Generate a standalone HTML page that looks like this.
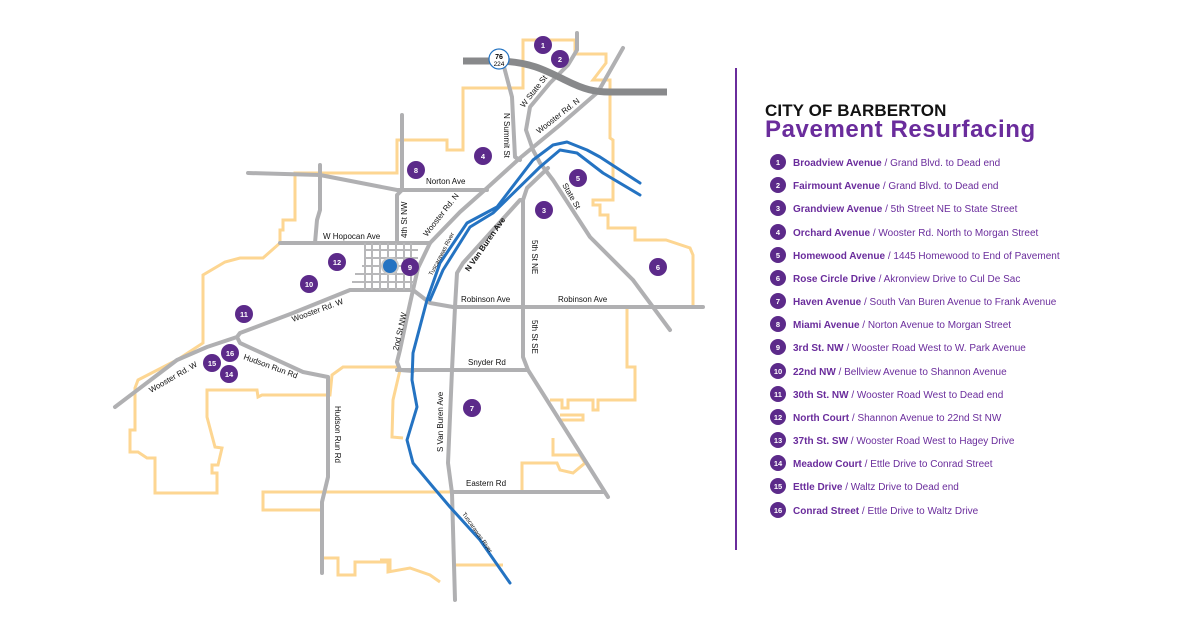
<!DOCTYPE html>
<html><head><meta charset="utf-8"><style>
html,body{margin:0;padding:0;background:#fff;}
svg{display:block;font-family:"Liberation Sans",sans-serif;}
.b{fill:none;stroke:#fdd692;stroke-width:3;stroke-linejoin:miter}
.r{fill:none;stroke:#b0b0b2;stroke-width:4;stroke-linejoin:round;stroke-linecap:round}
.g{fill:none;stroke:#b8b8ba;stroke-width:2}
.w{fill:none;stroke:#2473c2;stroke-width:3;stroke-linejoin:round;stroke-linecap:round}
.l{font-size:8px;fill:#111;}
.m circle{fill:#5c2a8a}
.m text{fill:#fff;font-size:7.5px;font-weight:bold;text-anchor:middle}
.lg{font-size:10px;fill:#6a2c9c}
</style></head><body>
<svg width="1200" height="628" viewBox="0 0 1200 628">
<g class="b">
<polyline points="463,130 463,88 523,88 523,40 575,40 575,54 606,54 606,63 593,80 610,80 610,138 613,140 613,200 593,200 593,205 600,205 600,215 608,215 608,228 635,228 635,240 666,240 690,248 693,255 693,307 627,307 627,367 635,367 635,400 598,400 598,410 593,410 593,400 568,400 568,408 562,408 562,400 550,400"/>
<polyline points="560,415 583,415 583,420 560,420"/>
<polyline points="553,438 553,455 580,455 585,463 573,473 560,470 557,463 522,463 522,492 263,492 263,510 320,510"/>
<polyline points="463,130 463,150 447,150 447,140 397,140 397,173 295,173 295,220 283,220 283,230 280,230 280,243 263,258 240,258 225,262 203,275 203,343 177,360 173,362 138,380 135,388 135,430 130,430 130,452 138,452 147,458 155,458 155,493 217,493 217,473 212,473 212,465 218,465 222,448 215,447 207,417 207,390 257,390 258,397 262,395 330,395 332,375 343,367 397,367 400,370 393,400 392,437 403,438"/>
<polyline points="323,558 338,558 338,575 355,575 355,562 388,562 388,572 410,568 430,575 440,582"/>
<polyline points="380,560 390,560 390,570"/>
<polyline points="455,565 503,565"/>
</g>
<g class="r">
<polyline points="503,63 512,97 515,157 520,160"/>
<polyline points="577,33 577,50 568,65 550,83 530,107 526,130 533,150 540,163 553,180 590,237 633,280 670,330"/>
<polyline points="623,48 598,92 560,125 520,158 487,188 460,212 430,243 418,268 413,290 407,317 400,350 397,362 400,370 413,371"/>
<polyline points="248,173 320,175 397,190 487,190"/>
<polyline points="402,115 402,190 397,195 397,243"/>
<polyline points="280,243 430,243"/>
<polyline points="320,165 320,210 317,220 315,243"/>
<polyline points="413,290 350,290 293,313 240,333 237,337 207,347 177,360 115,407"/>
<polyline points="237,337 240,343 303,372 328,377 328,477 322,502 322,573"/>
<polyline points="397,370 527,370"/>
<polyline points="413,290 430,303 453,307 703,307"/>
<polyline points="548,168 527,188 523,200 520,200 463,263 457,273 455,307 452,370 448,463 452,493 455,600"/>
<polyline points="523,200 523,357 528,370 608,497"/>
<polyline points="452,492 603,492"/>
</g>
<g class="g">
<line x1="365" y1="250" x2="418" y2="250"/><line x1="365" y1="258" x2="418" y2="258"/>
<line x1="362" y1="266" x2="416" y2="266"/><line x1="355" y1="274" x2="415" y2="274"/>
<line x1="352" y1="282" x2="414" y2="282"/>
<line x1="365" y1="243" x2="365" y2="290"/><line x1="372" y1="243" x2="372" y2="290"/>
<line x1="380" y1="243" x2="380" y2="290"/><line x1="388" y1="243" x2="388" y2="290"/>
<line x1="396" y1="243" x2="396" y2="290"/><line x1="404" y1="243" x2="404" y2="290"/>
<line x1="411" y1="243" x2="411" y2="290"/>
</g>
<path d="M463,61 L500,61 C530,62 545,70 565,80 C585,90 595,92 610,92 L667,92" fill="none" stroke="#88898b" stroke-width="7"/>
<circle cx="499" cy="59" r="10" fill="#fff" stroke="#2473c2" stroke-width="1.2"/>
<text x="499" y="59" font-size="7" font-weight="bold" text-anchor="middle">76</text>
<text x="499" y="66" font-size="6.5" text-anchor="middle">224</text>
<g class="w">
<polyline points="640,183 600,157 587,150 567,142 553,145 533,160 497,207 467,223 440,263 427,300 413,353 412,380 417,407 407,440 413,463 433,487 450,507 480,540 510,583"/>
<polyline points="640,195 603,173 590,163 577,153 560,150 540,167 493,213 470,227 443,270 430,300"/>
</g>
<circle cx="390" cy="266" r="8" fill="#2473c2" stroke="#c8c8c8" stroke-width="2"/>
<g class="l">
<text x="426" y="184">Norton Ave</text>
<text x="323" y="239">W Hopocan Ave</text>
<text x="461" y="302">Robinson Ave</text>
<text x="558" y="302">Robinson Ave</text>
<text x="468" y="365">Snyder Rd</text>
<text x="466" y="486">Eastern Rd</text>
<text transform="translate(407,238) rotate(-90)">4th St NW</text>
<text transform="translate(427,237) rotate(-52)">Wooster Rd. N</text>
<text transform="translate(539,134) rotate(-38)">Wooster Rd. N</text>
<text transform="translate(524,108) rotate(-52)">W State St</text>
<text transform="translate(504,113) rotate(90)">N Summit St</text>
<text transform="translate(562,185) rotate(60)">State St</text>
<text transform="translate(532,240) rotate(90)">5th St NE</text>
<text transform="translate(532,320) rotate(90)">5th St SE</text>
<text transform="translate(469,272) rotate(-55)" font-weight="bold">N Van Buren Ave</text>
<text transform="translate(443,452) rotate(-90)">S Van Buren Ave</text>
<text transform="translate(398,351) rotate(-77)">2nd St NW</text>
<text transform="translate(335,406) rotate(90)">Hudson Run Rd</text>
<text transform="translate(293,322) rotate(-20)">Wooster Rd. W</text>
<text transform="translate(151,393) rotate(-30)">Wooster Rd. W</text>
<text transform="translate(243,359) rotate(20)">Hudson Run Rd</text>
<text transform="translate(432,276) rotate(-62)" font-size="6">Tuscarawas River</text>
<text transform="translate(462,514) rotate(55)" font-size="6">Tuscarawas River</text>
</g>
<g class="m">
<circle cx="543" cy="45" r="9"/><text x="543" y="48">1</text>
<circle cx="560" cy="59" r="9"/><text x="560" y="62">2</text>
<circle cx="544" cy="210" r="9"/><text x="544" y="213">3</text>
<circle cx="483" cy="156" r="9"/><text x="483" y="159">4</text>
<circle cx="578" cy="178" r="9"/><text x="578" y="181">5</text>
<circle cx="658" cy="267" r="9"/><text x="658" y="270">6</text>
<circle cx="472" cy="408" r="9"/><text x="472" y="411">7</text>
<circle cx="416" cy="170" r="9"/><text x="416" y="173">8</text>
<circle cx="410" cy="267" r="9"/><text x="410" y="270">9</text>
<circle cx="309" cy="284" r="9"/><text x="309" y="287">10</text>
<circle cx="244" cy="314" r="9"/><text x="244" y="317">11</text>
<circle cx="337" cy="262" r="9"/><text x="337" y="265">12</text>
<circle cx="229" cy="374" r="9"/><text x="229" y="377">14</text>
<circle cx="212" cy="363" r="9"/><text x="212" y="366">15</text>
<circle cx="230" cy="353" r="9"/><text x="230" y="356">16</text>
</g>
<line x1="736" y1="68" x2="736" y2="550" stroke="#6a2c9c" stroke-width="2"/>
<text x="765" y="116" font-size="17" font-weight="bold" fill="#111" letter-spacing="0.1">CITY OF BARBERTON</text>
<text x="765" y="137" font-size="24" font-weight="bold" fill="#6a2c9c" letter-spacing="0.6">Pavement Resurfacing</text>
<g class="m">
<circle cx="778" cy="162" r="8"/><text x="778" y="165">1</text>
<circle cx="778" cy="185" r="8"/><text x="778" y="188">2</text>
<circle cx="778" cy="208" r="8"/><text x="778" y="211">3</text>
<circle cx="778" cy="232" r="8"/><text x="778" y="235">4</text>
<circle cx="778" cy="255" r="8"/><text x="778" y="258">5</text>
<circle cx="778" cy="278" r="8"/><text x="778" y="281">6</text>
<circle cx="778" cy="301" r="8"/><text x="778" y="304">7</text>
<circle cx="778" cy="324" r="8"/><text x="778" y="327">8</text>
<circle cx="778" cy="347" r="8"/><text x="778" y="350">9</text>
<circle cx="778" cy="371" r="8"/><text x="778" y="374">10</text>
<circle cx="778" cy="394" r="8"/><text x="778" y="397">11</text>
<circle cx="778" cy="417" r="8"/><text x="778" y="420">12</text>
<circle cx="778" cy="440" r="8"/><text x="778" y="443">13</text>
<circle cx="778" cy="463" r="8"/><text x="778" y="466">14</text>
<circle cx="778" cy="486" r="8"/><text x="778" y="489">15</text>
<circle cx="778" cy="510" r="8"/><text x="778" y="513">16</text>
</g>
<g class="lg">
<text x="793" y="166"><tspan font-weight="bold">Broadview Avenue</tspan> / Grand Blvd. to Dead end</text>
<text x="793" y="189"><tspan font-weight="bold">Fairmount Avenue</tspan> / Grand Blvd. to Dead end</text>
<text x="793" y="212"><tspan font-weight="bold">Grandview Avenue</tspan> /  5th Street NE to State Street</text>
<text x="793" y="236"><tspan font-weight="bold">Orchard Avenue</tspan> / Wooster Rd. North to Morgan Street</text>
<text x="793" y="259"><tspan font-weight="bold">Homewood Avenue</tspan>  / 1445 Homewood to End of Pavement</text>
<text x="793" y="282"><tspan font-weight="bold">Rose Circle Drive</tspan> /  Akronview Drive to Cul De Sac</text>
<text x="793" y="305"><tspan font-weight="bold">Haven Avenue</tspan> /  South Van Buren Avenue to Frank Avenue</text>
<text x="793" y="328"><tspan font-weight="bold">Miami Avenue</tspan> /  Norton Avenue to Morgan Street</text>
<text x="793" y="351"><tspan font-weight="bold">3rd St. NW</tspan> / Wooster Road West to W. Park Avenue</text>
<text x="793" y="375"><tspan font-weight="bold">22nd NW</tspan> / Bellview Avenue to Shannon Avenue</text>
<text x="793" y="398"><tspan font-weight="bold">30th St. NW</tspan> / Wooster Road West to Dead end</text>
<text x="793" y="421"><tspan font-weight="bold">North Court</tspan> /  Shannon Avenue to 22nd St NW</text>
<text x="793" y="444"><tspan font-weight="bold">37th St. SW</tspan> / Wooster Road West to Hagey Drive</text>
<text x="793" y="467"><tspan font-weight="bold">Meadow Court</tspan> / Ettle Drive to Conrad Street</text>
<text x="793" y="490"><tspan font-weight="bold">Ettle Drive</tspan> / Waltz Drive to Dead end</text>
<text x="793" y="514"><tspan font-weight="bold">Conrad Street</tspan> / Ettle Drive to Waltz Drive</text>
</g>
</svg>
</body></html>
